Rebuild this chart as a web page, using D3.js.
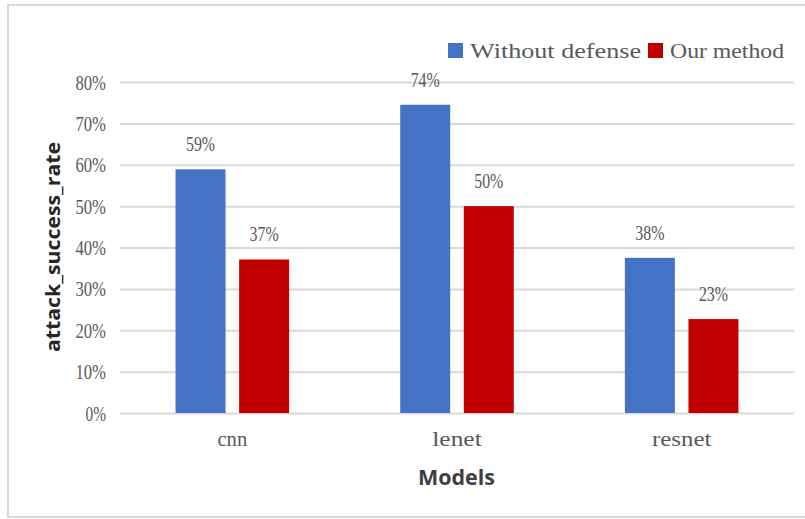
<!DOCTYPE html>
<html>
<head>
<meta charset="utf-8">
<script src="https://cdn.jsdelivr.net/npm/d3@7"></script>
<style>
  html, body { margin: 0; padding: 0; background: #fff; }
  svg { display: block; }
</style>
</head>
<body>
<svg id="chart" width="805" height="519"></svg>
<script>
// ---- data ----
const categories = ["cnn", "lenet", "resnet"];
const seriesNames = ["Without defense", "Our method"];
const withoutDefense = [0.589, 0.745, 0.375];
const ourMethod = [0.371, 0.500, 0.227];
const dataLabels = [["59%", "74%", "38%"], ["37%", "50%", "23%"]];
const yTicks = [0, 0.1, 0.2, 0.3, 0.4, 0.5, 0.6, 0.7, 0.8];
const yTickLabels = ["0%", "10%", "20%", "30%", "40%", "50%", "60%", "70%", "80%"];
const colors = ["#4472C4", "#C00000"];
const yTitle = "attack_success_rate";
const xTitle = "Models";

const series = [withoutDefense, ourMethod];

const svg = d3.select("#chart");
const serifFont = "'Liberation Serif', 'DejaVu Serif', serif";
const textColor = "#595959";

// outer border
svg.append("rect")
  .attr("x", 8).attr("y", 5).attr("width", 820).attr("height", 512)
  .attr("fill", "#fff").attr("stroke", "#d9d9d9").attr("stroke-width", 2);

const x0 = d3.scaleBand().domain(categories).range([120, 794])
  .paddingInner(0.4944).paddingOuter(0.2472);
const x1 = d3.scaleBand().domain(d3.range(seriesNames.length))
  .range([0, x0.bandwidth()]).paddingInner(0.214).paddingOuter(0);
const y = d3.scaleLinear().domain([0, 0.8]).range([413, 82]);

// helper: SimSun-like monospaced text emulated with a serif face
function mText(g, xPos, yPos, str, size, charW, anchor) {
  return g.append("text")
    .attr("x", xPos).attr("y", yPos)
    .attr("text-anchor", anchor || "middle")
    .attr("font-family", serifFont)
    .attr("font-size", size)
    .attr("fill", textColor)
    .attr("textLength", str.length * charW)
    .attr("lengthAdjust", "spacingAndGlyphs")
    .text(str);
}

// gridlines + y tick labels
const yAxis = d3.axisLeft(y).tickValues(yTicks).tickSize(0).tickFormat((d, i) => yTickLabels[i]);
const gAxis = svg.append("g").attr("transform", "translate(120,0)");
gAxis.call(yAxis);
gAxis.select(".domain").remove();
gAxis.selectAll(".tick text").remove();
gAxis.selectAll(".tick").each(function(d, i) {
  const t = d3.select(this);
  t.append("line").attr("x1", 0).attr("x2", 674).attr("y1", 0).attr("y2", 0)
    .attr("stroke", "#d9d9d9").attr("stroke-width", 2);
  mText(t, -14, 7, yTickLabels[i], 20, 10.2, "end");
});

// bars
const groups = svg.append("g").selectAll("g").data(categories).join("g")
  .attr("transform", d => `translate(${x0(d)},0)`);

groups.each(function(cat, ci) {
  const g = d3.select(this);
  series.forEach((vals, si) => {
    g.append("rect")
      .attr("x", x1(si))
      .attr("y", y(vals[ci]))
      .attr("width", x1.bandwidth())
      .attr("height", y(0) - y(vals[ci]))
      .attr("fill", colors[si]);
    mText(g, x1(si) + x1.bandwidth() / 2, y(vals[ci]) - 18, dataLabels[si][ci], 20, 9.7, "middle");
  });
});

// category labels
const xAxis = d3.axisBottom(x0).tickSize(0).tickFormat("");
const gx = svg.append("g").attr("transform", "translate(0,413)").call(xAxis);
gx.select(".domain").remove();
gx.selectAll(".tick").each(function(d) {
  mText(d3.select(this), 0, 32.5, d, 21, 9.9, "middle");
});

// axis titles
svg.append("text")
  .attr("transform", "translate(60,247) rotate(-90)")
  .attr("text-anchor", "middle")
  .attr("font-family", "'Open Sans', 'Liberation Sans', sans-serif")
  .attr("font-weight", "bold")
  .attr("font-size", 20)
  .attr("fill", "#262626")
  .attr("textLength", 210)
  .attr("lengthAdjust", "spacingAndGlyphs")
  .text(yTitle);

svg.append("text")
  .attr("x", 456.5).attr("y", 485)
  .attr("text-anchor", "middle")
  .attr("font-family", "'Open Sans', 'Liberation Sans', sans-serif")
  .attr("font-weight", "bold")
  .attr("font-size", 22)
  .attr("fill", "#404040")
  .attr("textLength", 77)
  .attr("lengthAdjust", "spacingAndGlyphs")
  .text(xTitle);

// legend
const legendX = [448, 648];
const legend = svg.append("g");
seriesNames.forEach((name, i) => {
  legend.append("rect")
    .attr("x", legendX[i]).attr("y", 43).attr("width", 15).attr("height", 15)
    .attr("fill", colors[i]);
  mText(legend, legendX[i] + 22, 58, name, 22, 11.4, "start");
});
</script>
</body>
</html>
